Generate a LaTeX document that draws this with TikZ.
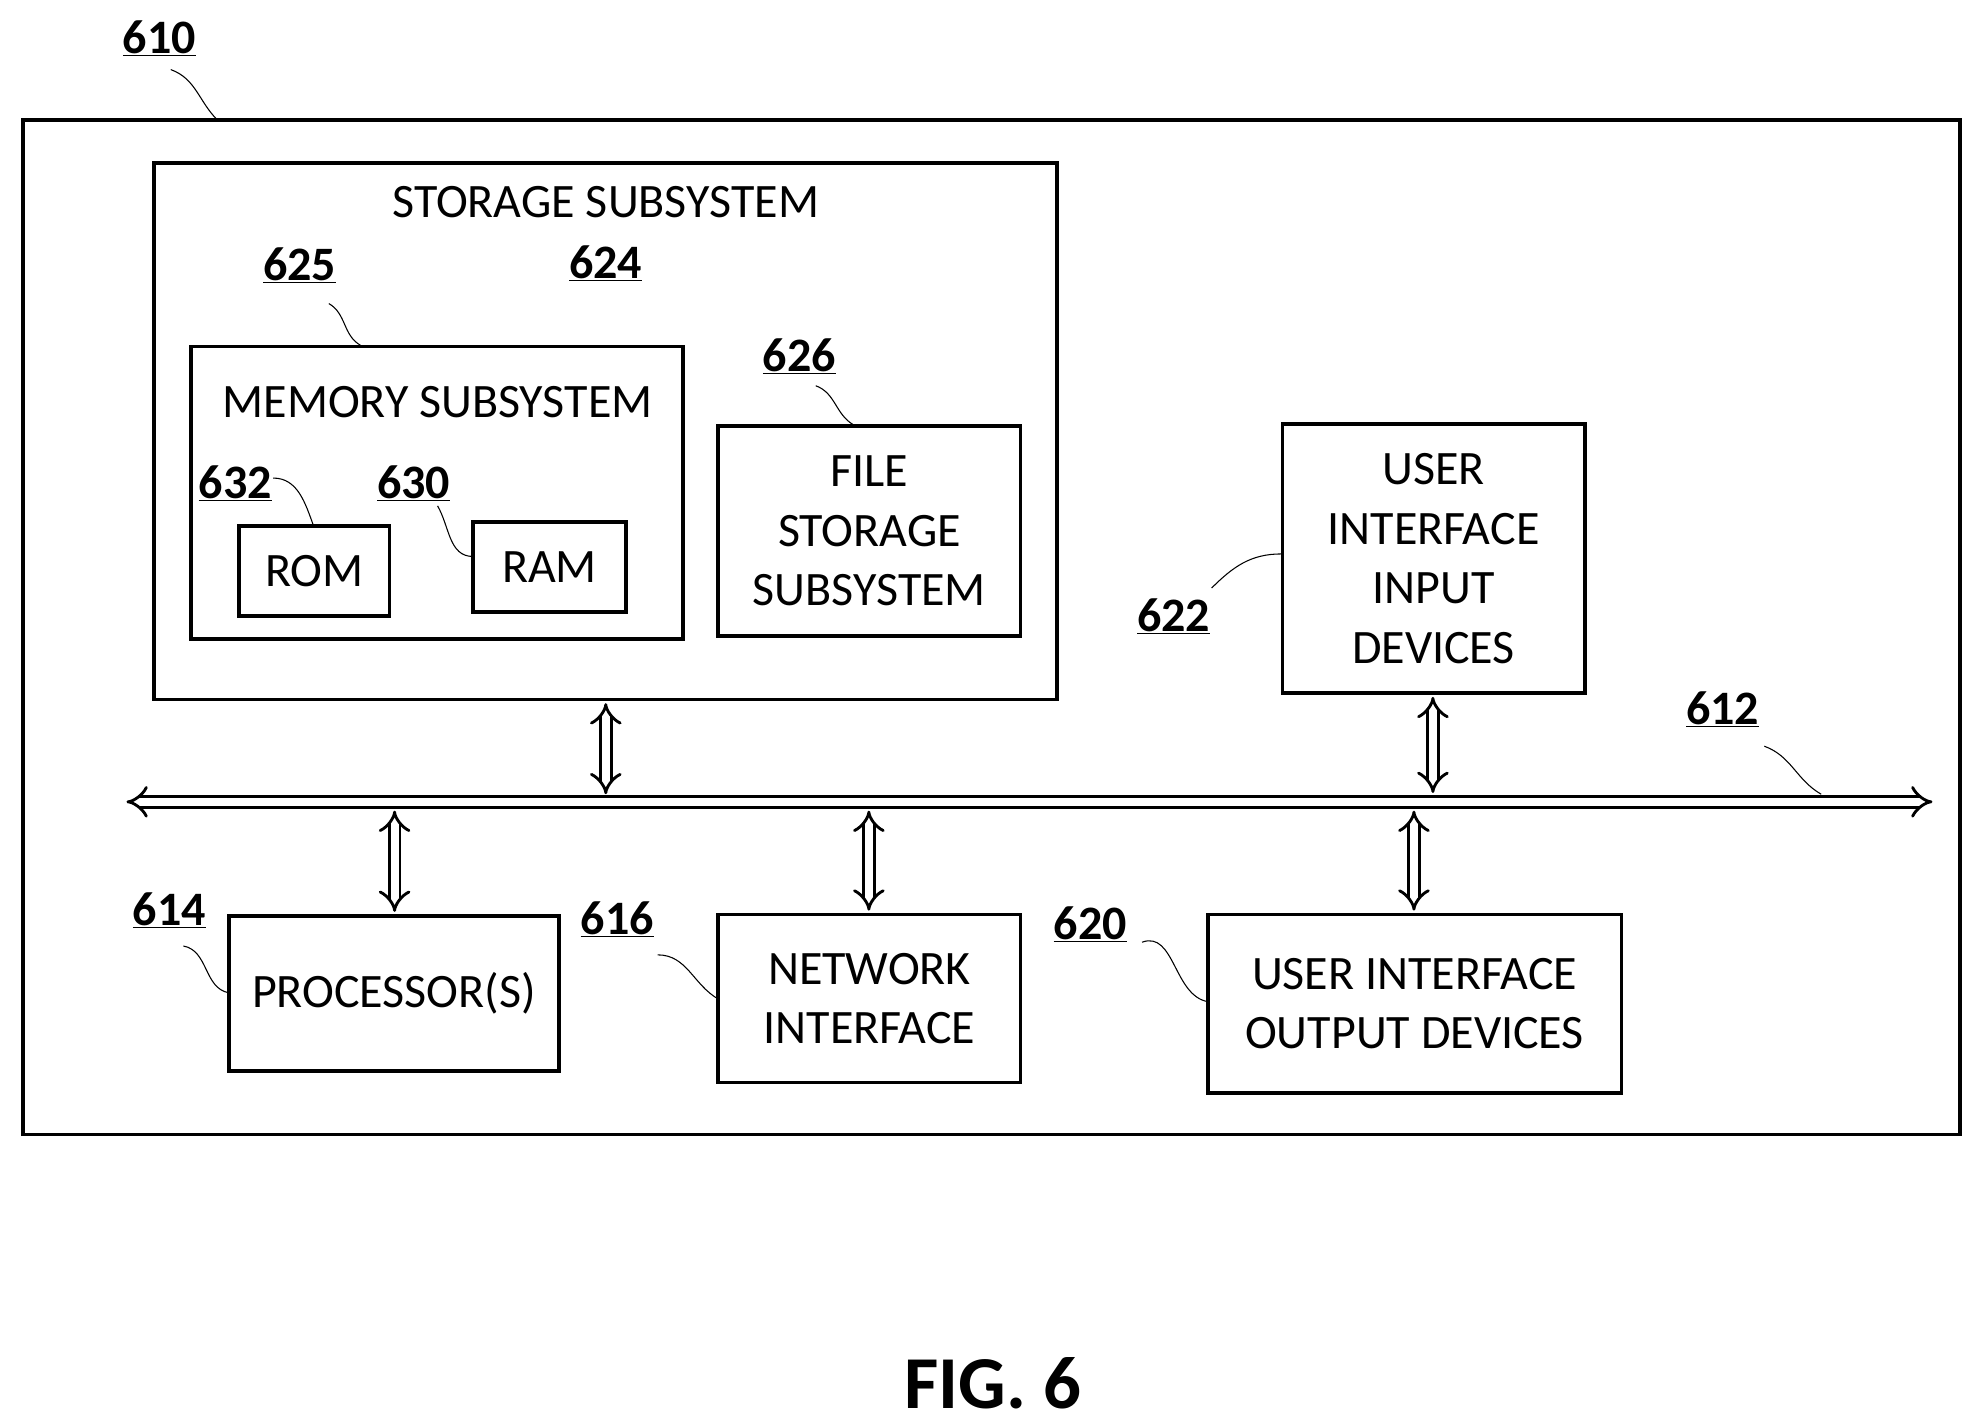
\documentclass[tikz,border=0pt]{standalone}
\usepackage{fontspec}
\setmainfont{Carlito}
\usetikzlibrary{arrows.meta}
\begin{document}
\begin{tikzpicture}[x=0.05cm,y=-0.05cm,
 box/.style 2 args={draw,line width=4.2pt,minimum width=#1*0.05cm,minimum height=#2*0.05cm,align=center,inner sep=0pt,font=\fontsize{54}{67}\selectfont},
 txt/.style={font=\fontsize{54}{67}\selectfont,align=center,inner sep=0pt},
 lab/.style={font=\bfseries\fontsize{54}{64}\selectfont,inner sep=0pt},
 lead/.style={line width=1.2pt},
 dbl/.style={double,double distance=9pt,line width=3.2pt,{Implies[length=14pt,width=30pt]}-{Implies[length=14pt,width=30pt]}}]
\useasboundingbox (0,0) rectangle (1564,1126);
\node[box={1532}{802}] (outer) at (784,496) {};
\node[lab] (l610) at (126,30) {\underline{610}};
\draw[lead] (135,55) to[out=-20,in=135] (172,95);
\node[box={714}{424}] (stor) at (479,341) {};
\node[txt] (stort) at (479,160) {STORAGE SUBSYSTEM};
\node[lab] (l625) at (237,210) {\underline{625}};
\node[lab] (l624) at (479,208) {\underline{624}};
\draw[lead] (260,240) to[out=-30,in=150] (285,273);
\node[box={389}{231}] (mem) at (345.5,389.5) {};
\node[txt] (memt) at (346,318) {MEMORY SUBSYSTEM};
\node[lab] (l632) at (186,382) {\underline{632}};
\node[lab] (l630) at (327,382) {\underline{630}};
\node[box={119}{71}] (rom) at (248.5,451.5) {ROM};
\node[box={121}{71}] (ram) at (434.5,448.5) {RAM};
\draw[lead] (216,378) to[out=0,in=110] (248,416);
\draw[lead] (346,400) to[out=-60,in=180] (374,440);
\node[lab] (l626) at (632,282) {\underline{626}};
\draw[lead] (645,305) to[out=-20,in=150] (675,336);
\node[box={239}{166}] (file) at (687.5,420) {FILE\\STORAGE\\SUBSYSTEM};
\node[box={239}{213}] (uiin) at (1133.5,441.5) {USER\\INTERFACE\\INPUT\\DEVICES};
\node[lab] (l622) at (928,487) {\underline{622}};
\draw[lead] (958,465) to[out=45,in=180] (1013,438);
\coordinate (busL) at (100,634);
\coordinate (busR) at (1528,634);
\draw[dbl] (busL) -- (busR);
\node[lab] (l612) at (1362,561) {\underline{612}};
\draw[lead] (1395,590) to[out=-20,in=150] (1440,628);
\node[box={261}{123}] (proc) at (311.5,785.5) {PROCESSOR(S)};
\node[box={239}{133}] (net) at (687.5,789.5) {NETWORK\\INTERFACE};
\node[box={327}{141}] (uiout) at (1118.5,793.5) {USER INTERFACE\\OUTPUT DEVICES};
\draw[dbl] (479,556) -- (479,628);
\draw[dbl] (1133,551) -- (1133,627);
\draw[dbl] (312,641) -- (312,721);
\draw[dbl] (687,641) -- (687,720);
\draw[dbl] (1118,641) -- (1118,720);
\node[lab] (l614) at (134,720) {\underline{614}};
\draw[lead] (145,748) to[out=-10,in=170] (181,785);
\node[lab] (l616) at (488,727) {\underline{616}};
\draw[lead] (520,755) to[out=0,in=150] (568,790);
\node[lab] (l620) at (862,731) {\underline{620}};
\draw[lead] (903,745) to[out=20,in=170] (955,792);
\node[font=\bfseries\fontsize{84}{100}\selectfont] (fig) at (785,1094) {FIG. 6};
\end{tikzpicture}
\end{document}
